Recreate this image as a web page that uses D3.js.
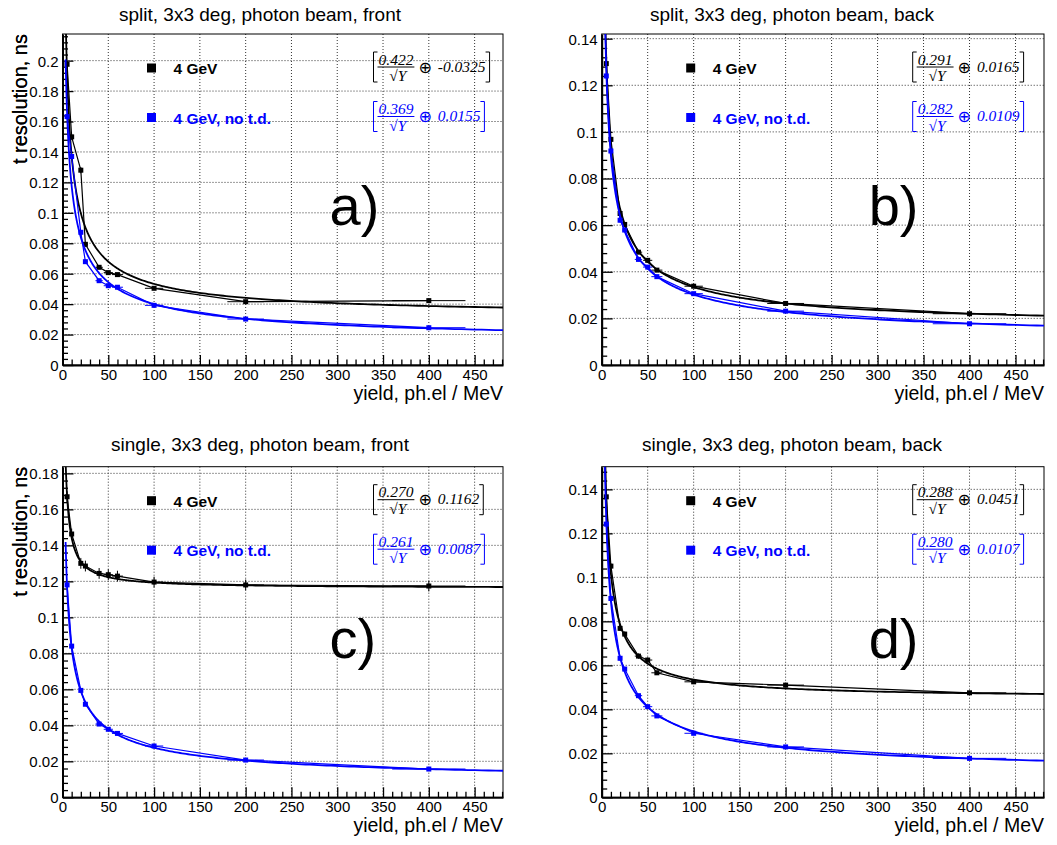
<!DOCTYPE html>
<html>
<head>
<meta charset="utf-8">
<script src="https://cdn.jsdelivr.net/npm/d3@7"></script>
<style>
  body { margin: 0; background: #fff; }
  svg { display: block; }
</style>
</head>
<body>
<div id="chart"></div>
<script>
// yield points (ph.el / MeV) and their horizontal errors
const yieldVals = [5, 10, 20, 25, 40, 50, 60, 100, 200, 400];
const yieldErr = [0.5, 1, 2, 2.5, 4, 5, 6, 10, 20, 40];

const panelTitles = [
  "split, 3x3 deg, photon beam, front",
  "split, 3x3 deg, photon beam, back",
  "single, 3x3 deg, photon beam, front",
  "single, 3x3 deg, photon beam, back"
];
const panelTags = ["a)", "b)", "c)", "d)"];
const panelYMax = [0.2175, 0.142, 0.1837, 0.1503];
const seriesNames = ["4 GeV", "4 GeV, no t.d."];

// t resolution, ns
const aBlack = [0.1976, 0.1499, 0.128, 0.0793, 0.0642, 0.0607, 0.0594, 0.0504, 0.0416, 0.0423];
const aBlue  = [0.1632, 0.137, 0.0872, 0.0679, 0.0554, 0.0521, 0.0511, 0.0392, 0.0302, 0.0245];
const bBlack = [0.1293, 0.0968, 0.065, 0.0603, 0.0484, 0.0449, 0.0407, 0.0338, 0.0264, 0.022];
const bBlue  = [0.124, 0.0918, 0.0621, 0.0579, 0.0453, 0.042, 0.0379, 0.0306, 0.0231, 0.0177];
const cBlack = [0.167, 0.1463, 0.130, 0.1285, 0.1244, 0.1237, 0.1229, 0.1196, 0.118, 0.1174];
const cBlue  = [0.118, 0.084, 0.0594, 0.0517, 0.0407, 0.0378, 0.0355, 0.0285, 0.0207, 0.0157];
const dBlack = [0.1366, 0.1051, 0.0768, 0.0742, 0.0642, 0.0624, 0.0566, 0.0525, 0.051, 0.0475];
const dBlue  = [0.1242, 0.0904, 0.0632, 0.0583, 0.0462, 0.0412, 0.037, 0.0291, 0.0229, 0.0177];

// vertical errors
const aBlackErr = [0.002, 0.002, 0.002, 0.0015, 0.0012, 0.001, 0.001, 0.001, 0.001, 0.001];
const aBlueErr  = [0.0015, 0.0015, 0.0012, 0.001, 0.001, 0.001, 0.001, 0.001, 0.0008, 0.0008];
const bBlackErr = [0.0012, 0.001, 0.001, 0.001, 0.0008, 0.0008, 0.0008, 0.0006, 0.0006, 0.0006];
const bBlueErr  = [0.0012, 0.001, 0.001, 0.001, 0.0008, 0.0008, 0.0008, 0.0006, 0.0006, 0.0006];
const cBlackErr = [0.003, 0.003, 0.003, 0.003, 0.003, 0.003, 0.003, 0.003, 0.003, 0.003];
const cBlueErr  = [0.0012, 0.001, 0.001, 0.001, 0.0008, 0.0008, 0.0008, 0.0006, 0.0006, 0.0006];
const dBlackErr = [0.0015, 0.0012, 0.0012, 0.0012, 0.0012, 0.0012, 0.001, 0.001, 0.001, 0.001];
const dBlueErr  = [0.0012, 0.001, 0.001, 0.001, 0.0008, 0.0008, 0.0008, 0.0006, 0.0006, 0.0006];

// fit: sqrt(a^2/Y + c^2)
const fitStochTd   = [0.422, 0.291, 0.270, 0.288];
const fitConstTd   = [-0.0325, 0.0165, 0.1162, 0.0451];
const fitStochNoTd = [0.369, 0.282, 0.261, 0.280];
const fitConstNoTd = [0.0155, 0.0109, 0.0087, 0.0107];

const blackSeries = [aBlack, bBlack, cBlack, dBlack];
const blueSeries = [aBlue, bBlue, cBlue, dBlue];
const blackErrs = [aBlackErr, bBlackErr, cBlackErr, dBlackErr];
const blueErrs = [aBlueErr, bBlueErr, cBlueErr, dBlueErr];

const W = 1057, H = 845;
const sans = "'Liberation Sans', Arial, Helvetica, sans-serif";
const serif = "'Liberation Serif', 'DejaVu Serif', serif";
const colors = ["#000000", "#0000ff"];

// frame boxes
const frames = [
  { x0: 62.5, x1: 503, y0: 34, y1: 365 },
  { x0: 601.7, x1: 1044, y0: 34, y1: 365 },
  { x0: 62.5, x1: 503, y0: 466.7, y1: 797.3 },
  { x0: 601.7, x1: 1044, y0: 466.7, y1: 797.3 }
];
const titleX = [260, 792, 260, 792];

const svg = d3.select("#chart").append("svg")
  .attr("width", W)
  .attr("height", H);
svg.append("rect").attr("width", W).attr("height", H).attr("fill", "#fff");

const defs = svg.append("defs");

frames.forEach((f, p) => {
  const g = svg.append("g");

  const x = d3.scaleLinear().domain([0, 481]).range([f.x0, f.x1]);
  const y = d3.scaleLinear().domain([0, panelYMax[p]]).range([f.y1, f.y0]);

  defs.append("clipPath").attr("id", "clip" + p)
    .append("rect")
    .attr("x", f.x0).attr("y", f.y0)
    .attr("width", f.x1 - f.x0).attr("height", f.y1 - f.y0);

  // title
  g.append("text")
    .attr("x", titleX[p]).attr("y", p < 2 ? 21 : 451)
    .attr("text-anchor", "middle")
    .attr("font-family", sans).attr("font-size", "19px")
    .text(panelTitles[p]);

  // grid
  const xMajor = d3.range(50, 481, 50);
  const yMajor = d3.range(1, Math.floor(panelYMax[p] / 0.02 + 1e-6) + 1).map(i => i * 0.02);
  g.append("g").selectAll("line").data(xMajor).enter().append("line")
    .attr("x1", d => x(d)).attr("x2", d => x(d))
    .attr("y1", f.y0).attr("y2", f.y1)
    .attr("stroke", "#333").attr("stroke-width", 1)
    .attr("stroke-dasharray", "1,2");
  g.append("g").selectAll("line").data(yMajor).enter().append("line")
    .attr("x1", f.x0).attr("x2", f.x1)
    .attr("y1", d => y(d)).attr("y2", d => y(d))
    .attr("stroke", "#333").attr("stroke-width", 1)
    .attr("stroke-dasharray", "1,2");

  // frame
  g.append("rect")
    .attr("x", f.x0).attr("y", f.y0)
    .attr("width", f.x1 - f.x0).attr("height", f.y1 - f.y0)
    .attr("fill", "none").attr("stroke", "#000").attr("stroke-width", 1);

  // x axis, ticks inside the frame
  const xAxis = d3.axisTop(x)
    .tickValues(d3.range(0, 481, 10))
    .tickSize(0)
    .tickFormat("");
  const xa = g.append("g").attr("transform", `translate(0,${f.y1})`).call(xAxis);
  xa.select(".domain").attr("stroke-width", 2);
  xa.selectAll(".tick").append("line")
    .attr("y1", 0)
    .attr("y2", d => d % 50 === 0 ? -10 : -5.5)
    .attr("stroke", "#000").attr("stroke-width", 1.3);
  xa.selectAll(".tick").filter(d => d % 50 === 0).append("text")
    .attr("y", 14.5).attr("fill", "#000")
    .attr("text-anchor", "middle")
    .attr("font-family", sans).attr("font-size", "15px")
    .text(d => d);

  // y axis
  const yMinor = d3.range(0, Math.round(panelYMax[p] / 0.004) + 1).map(i => i * 0.004)
    .filter(v => v <= panelYMax[p]);
  const yAxis = d3.axisRight(y)
    .tickValues(yMinor)
    .tickSize(0)
    .tickFormat("");
  const ya = g.append("g").attr("transform", `translate(${f.x0},0)`).call(yAxis);
  ya.select(".domain").attr("stroke-width", 2);
  ya.selectAll(".tick").append("line")
    .attr("x1", 0)
    .attr("x2", (d, i) => i % 5 === 0 ? 11 : 5.5)
    .attr("stroke", "#000").attr("stroke-width", 1.3);
  ya.selectAll(".tick").filter((d, i) => i % 5 === 0).append("text")
    .attr("x", -4).attr("dy", "0.36em").attr("fill", "#000")
    .attr("text-anchor", "end")
    .attr("font-family", sans).attr("font-size", "15px")
    .text(d => String(+d.toFixed(3)));

  // axis titles
  g.append("text")
    .attr("transform", `translate(27,${f.y0}) rotate(-90)`)
    .attr("text-anchor", "end")
    .attr("font-family", sans).attr("font-size", "20px")
    .text("t resolution, ns");
  g.append("text")
    .attr("x", f.x1).attr("y", f.y1 + 35)
    .attr("text-anchor", "end")
    .attr("font-family", sans).attr("font-size", "19.5px")
    .text("yield, ph.el / MeV");

  // data
  const plot = g.append("g").attr("clip-path", `url(#clip${p})`);
  const sets = [
    { vals: blackSeries[p], errs: blackErrs[p], a: fitStochTd[p], c: fitConstTd[p] },
    { vals: blueSeries[p], errs: blueErrs[p], a: fitStochNoTd[p], c: fitConstNoTd[p] }
  ];

  sets.forEach((s, k) => {
    const col = colors[k];
    const pts = yieldVals.map((v, i) => ({ x: v, y: s.vals[i], ex: yieldErr[i], ey: s.errs[i] }));

    // fit function
    const xs = d3.range(0, 301).map(i => 3.4 * Math.pow(481 / 3.4, i / 300));
    const fitPts = xs.map(v => [v, Math.sqrt(s.a * s.a / v + s.c * s.c)]);
    plot.append("path")
      .datum(fitPts)
      .attr("d", d3.line().x(d => x(d[0])).y(d => y(d[1])))
      .attr("fill", "none").attr("stroke", col).attr("stroke-width", 1.8);

    // graph line
    plot.append("path")
      .datum(pts)
      .attr("d", d3.line().x(d => x(d.x)).y(d => y(d.y)))
      .attr("fill", "none").attr("stroke", col).attr("stroke-width", 1.2);

    // error bars
    plot.append("g").selectAll("line").data(pts).enter().append("line")
      .attr("x1", d => x(d.x - d.ex)).attr("x2", d => x(d.x + d.ex))
      .attr("y1", d => y(d.y)).attr("y2", d => y(d.y))
      .attr("stroke", col).attr("stroke-width", 1);
    plot.append("g").selectAll("line").data(pts).enter().append("line")
      .attr("x1", d => x(d.x)).attr("x2", d => x(d.x))
      .attr("y1", d => y(d.y - d.ey)).attr("y2", d => y(d.y + d.ey))
      .attr("stroke", col).attr("stroke-width", 1);

    // markers
    plot.append("g").selectAll("rect").data(pts).enter().append("rect")
      .attr("x", d => x(d.x) - 2.5).attr("y", d => y(d.y) - 2.5)
      .attr("width", 5).attr("height", 5)
      .attr("fill", col);

    // legend
    const ly = f.y0 + 34 + k * 49.5;
    g.append("rect")
      .attr("x", f.x0 + 84.5).attr("y", ly - 4.5)
      .attr("width", 9).attr("height", 9)
      .attr("fill", col);
    g.append("text")
      .attr("x", f.x0 + 111).attr("y", ly + 6)
      .attr("font-family", sans).attr("font-size", "15.5px").attr("font-weight", "bold")
      .attr("fill", col)
      .text(seriesNames[k]);

    // fit formula  [ a/sqrt(Y) (+) c ]
    const fx = f.x0 + 311, ft = f.y0 + 18 + k * 49.5;
    const fg = g.append("g").attr("fill", col)
      .attr("font-family", serif).attr("font-style", "italic").attr("font-size", "15.5px");
    const num = fg.append("text")
      .attr("x", fx + 5).attr("y", ft + 12.5)
      .text(s.a.toFixed(3));
    const nw = num.node().getComputedTextLength();
    fg.append("line")
      .attr("x1", fx + 4).attr("x2", fx + 6 + nw)
      .attr("y1", ft + 15).attr("y2", ft + 15)
      .attr("stroke", col).attr("stroke-width", 1);
    fg.append("text")
      .attr("x", fx + 5 + nw / 2 + 2).attr("y", ft + 29)
      .attr("text-anchor", "middle")
      .text("\u221AY");
    const ox = fx + 10 + nw;
    const op = fg.append("text")
      .attr("x", ox).attr("y", ft + 20.5)
      .attr("font-style", "normal").attr("font-family", "'DejaVu Sans', sans-serif")
      .attr("font-size", "16px")
      .text("\u2295");
    const ow = op.node().getComputedTextLength();
    const cst = fg.append("text")
      .attr("x", ox + ow + 6).attr("y", ft + 19.5)
      .text(String(s.c));
    const cw = cst.node().getComputedTextLength();
    const rx = ox + ow + 6 + cw + 4;
    fg.append("path")
      .attr("d", `M${fx + 4},${ft} H${fx} V${ft + 30} H${fx + 4}`)
      .attr("fill", "none").attr("stroke", col).attr("stroke-width", 1);
    fg.append("path")
      .attr("d", `M${rx - 4},${ft} H${rx} V${ft + 30} H${rx - 4}`)
      .attr("fill", "none").attr("stroke", col).attr("stroke-width", 1);
  });

  // panel tag
  g.append("text")
    .attr("x", f.x0 + 267).attr("y", f.y0 + 191)
    .attr("font-family", sans).attr("font-size", "56px")
    .text(panelTags[p]);
});
</script>
</body>
</html>
